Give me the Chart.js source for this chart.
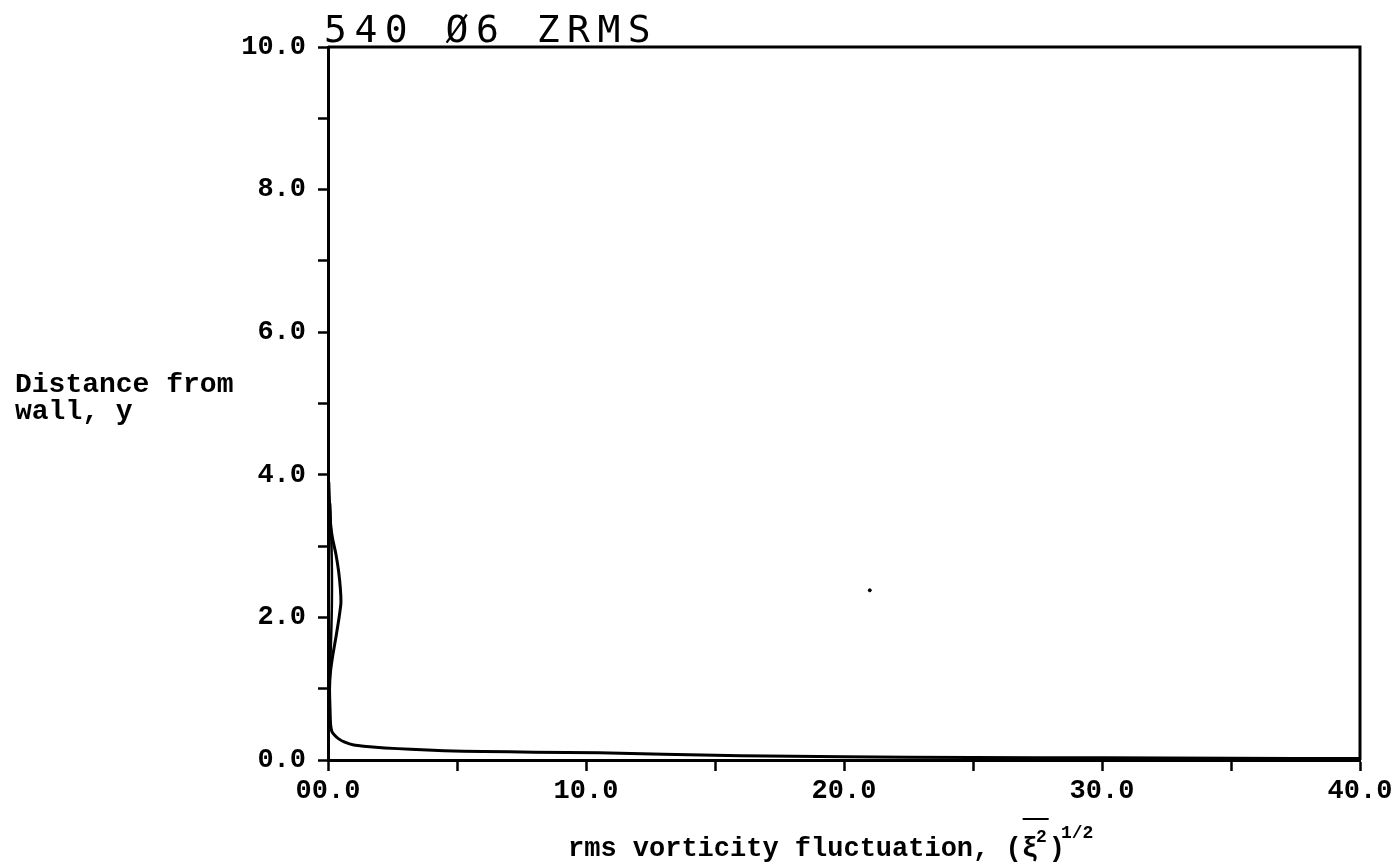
<!DOCTYPE html>
<html>
<head>
<meta charset="utf-8">
<title>540 Ø6 ZRMS</title>
<script src="https://cdn.jsdelivr.net/npm/chart.js@4/dist/chart.umd.min.js"></script>
<style>
  html, body { margin: 0; padding: 0; background: #fff; }
  canvas { display: block; }
</style>
</head>
<body>
<canvas id="zrmsChart" width="1399" height="864"></canvas>
<script>
// titulo y ejes
const titleText = "540 Ø6 ZRMS";
const yTitleLines = ["Distance from", "wall, y"];
const xTitleText = "rms vorticity fluctuation, (";

// etiquetas de los ticks (cada 5 en x, cada 1 en y)
const xTickLabels = ["00.0", "", "10.0", "", "20.0", "", "30.0", "", "40.0"];
const yTickLabels = ["0.0", "", "2.0", "", "4.0", "", "6.0", "", "8.0", "", "10.0"];

// perfil principal: rama cerca de la pared y el lóbulo exterior
const profileX = [40.0, 35.0, 30.0, 25.0, 20.0, 16.0, 13.0, 10.5, 8.0, 6.0, 4.5, 3.2, 2.2, 1.5, 1.0, 0.65, 0.4, 0.25, 0.15, 0.1, 0.08, 0.06, 0.1, 0.2, 0.32, 0.43, 0.5, 0.48, 0.41, 0.3, 0.18, 0.1, 0.06, 0.03];
const profileY = [0.02, 0.025, 0.03, 0.035, 0.045, 0.06, 0.08, 0.10, 0.11, 0.12, 0.13, 0.15, 0.17, 0.19, 0.21, 0.25, 0.30, 0.35, 0.40, 0.5, 0.7, 1.0, 1.25, 1.5, 1.75, 2.0, 2.2, 2.4, 2.65, 2.9, 3.1, 3.3, 3.6, 3.9];

// linea interior del lobulo
const innerX = [0.03, 0.07, 0.12, 0.15, 0.15, 0.12, 0.08];
const innerY = [0.8, 1.2, 1.7, 2.2, 2.7, 3.2, 3.6];

// punto suelto en el grafico
const speckX = [21.0];
const speckY = [2.38];

const toPoints = (xs, ys) => xs.map((x, i) => ({ x: x, y: ys[i] }));

const monoBold = (size) => `bold ${size}px "Liberation Mono", "DejaVu Sans Mono", monospace`;

// marco superior/derecho y textos
const framePlugin = {
  id: "frameAndTitles",
  afterDraw(chart) {
    const { ctx, chartArea } = chart;
    ctx.save();
    ctx.strokeStyle = "#000";
    ctx.lineWidth = 3;
    ctx.beginPath();
    ctx.moveTo(chartArea.left, chartArea.top);
    ctx.lineTo(chartArea.right, chartArea.top);
    ctx.lineTo(chartArea.right, chartArea.bottom);
    ctx.stroke();

    ctx.fillStyle = "#000";
    ctx.textBaseline = "alphabetic";
    ctx.textAlign = "left";

    // titulo
    ctx.font = '38px "DejaVu Sans Mono", monospace';
    ctx.letterSpacing = "7.5px";
    ctx.fillText(titleText, 324, 42);
    ctx.letterSpacing = "0px";

    // titulo eje y (horizontal)
    ctx.font = monoBold(28);
    ctx.fillText(yTitleLines[0], 15, 392);
    ctx.fillText(yTitleLines[1], 15, 419);

    // titulo eje x con notacion
    let x = 568;
    const base = 856;
    ctx.font = monoBold(27);
    ctx.fillText(xTitleText, x, base);
    x += ctx.measureText(xTitleText).width;
    const xiStart = x;
    ctx.fillText("ξ", x, base);
    x += ctx.measureText("ξ").width - 2;
    ctx.font = monoBold(18);
    ctx.fillText("2", x, base - 14);
    x += ctx.measureText("2").width + 2;
    ctx.lineWidth = 2;
    ctx.beginPath();
    ctx.moveTo(xiStart + 1, 819);
    ctx.lineTo(x, 819);
    ctx.stroke();
    ctx.font = monoBold(27);
    ctx.fillText(")", x, base);
    x += ctx.measureText(")").width - 4;
    ctx.font = monoBold(18);
    ctx.fillText("1/2", x, base - 18);
    ctx.restore();
  },
};

const ctx = document.getElementById("zrmsChart").getContext("2d");
const zrmsChart = new Chart(ctx, {
  type: "scatter",
  data: {
    datasets: [
      {
        data: toPoints(profileX, profileY),
        showLine: true,
        borderColor: "#000",
        borderWidth: 3,
        pointRadius: 0,
        tension: 0.2,
      },
      {
        data: toPoints(innerX, innerY),
        showLine: true,
        borderColor: "#000",
        borderWidth: 2.5,
        pointRadius: 0,
        tension: 0.3,
      },
      {
        data: toPoints(speckX, speckY),
        pointRadius: 1.5,
        backgroundColor: "#000",
        borderColor: "#000",
      },
    ],
  },
  options: {
    responsive: false,
    animation: false,
    devicePixelRatio: 1,
    layout: { padding: { left: 0, top: 47, right: 39, bottom: 0 } },
    plugins: {
      legend: { display: false },
      title: { display: false },
      tooltip: { enabled: false },
    },
    scales: {
      x: {
        type: "linear",
        min: 0,
        max: 40,
        afterFit: (scale) => { scale.height = 104; },
        border: { display: true, color: "#000", width: 3 },
        grid: { drawOnChartArea: false, drawTicks: true, tickLength: 11, tickWidth: 2.5, tickColor: "#000" },
        ticks: {
          stepSize: 5,
          padding: 4,
          color: "#000",
          maxRotation: 0,
          autoSkip: false,
          font: { family: '"Liberation Mono", "DejaVu Sans Mono", monospace', size: 27, weight: "bold" },
          callback: (value, index) => xTickLabels[index],
        },
      },
      y: {
        type: "linear",
        min: 0,
        max: 10,
        afterFit: (scale) => { scale.width = 328; },
        border: { display: true, color: "#000", width: 3 },
        grid: { drawOnChartArea: false, drawTicks: true, tickLength: 10, tickWidth: 2.5, tickColor: "#000" },
        ticks: {
          stepSize: 1,
          padding: 12,
          color: "#000",
          autoSkip: false,
          font: { family: '"Liberation Mono", "DejaVu Sans Mono", monospace', size: 27, weight: "bold" },
          callback: (value, index) => yTickLabels[index],
        },
      },
    },
  },
  plugins: [framePlugin],
});
</script>
</body>
</html>
